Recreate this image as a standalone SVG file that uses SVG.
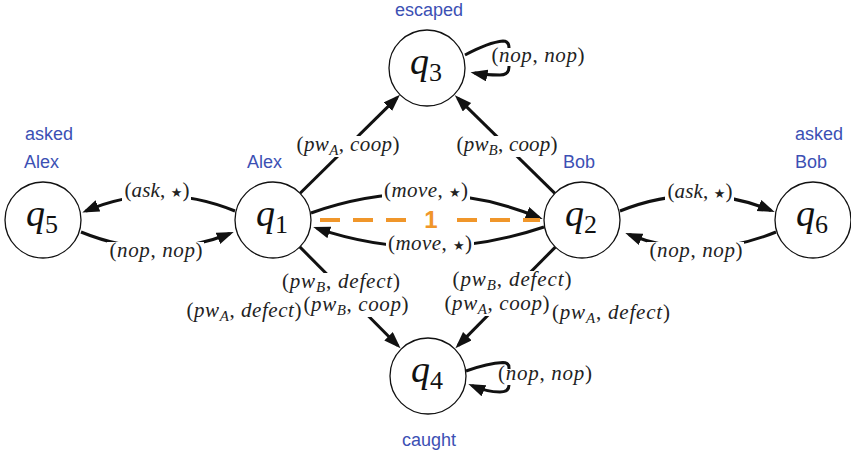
<svg xmlns="http://www.w3.org/2000/svg" width="851" height="455" viewBox="0 0 851 455">
<style>
.node circle{fill:#fff;stroke:#111;stroke-width:1.3}
.nl{font-family:"Liberation Serif",serif;font-size:38px;font-style:italic;fill:#111}
.nl tspan{font-style:normal;font-size:26px}
.edge{fill:none;stroke:#111;stroke-width:3}
.dash{fill:none;stroke:#f0962a;stroke-width:4;stroke-dasharray:20 13}
.one{font-family:"Liberation Sans",sans-serif;font-weight:bold;font-size:24px;fill:#f0962a}
.lbl{font-family:"Liberation Serif",serif;font-size:21px;fill:#222}
.it{font-style:italic}
.sub{font-style:italic;font-size:15px}
.star{font-family:"DejaVu Sans",sans-serif;font-size:13px}
.bg{fill:#fff}
.tag{font-family:"Liberation Sans",sans-serif;font-size:18px;fill:#3c50b4}
</style>
<defs>
<marker id="ah" markerUnits="userSpaceOnUse" markerWidth="18" markerHeight="13" refX="13" refY="6" orient="auto"><path d="M0,0 L17,6 L0,12 z" fill="#111"/></marker>
</defs>
<g id="connectors">
<path class="edge" marker-end="url(#ah)" d="M235,211 Q158,180 86,211"/>
<path class="edge" marker-end="url(#ah)" d="M81,232 Q157,263 230,233.5"/>
<path class="edge" marker-end="url(#ah)" d="M311,213 Q427,172 539,217.5"/>
<path class="edge" marker-end="url(#ah)" d="M544,227 Q428,266 317,228.3"/>
<path class="edge" marker-end="url(#ah)" d="M620,211 Q698,180 771,210.5"/>
<path class="edge" marker-end="url(#ah)" d="M776,232 Q700,263 629,234.5"/>
<path class="edge" marker-end="url(#ah)" d="M300.1,193.2 L397.1,97.6"/>
<path class="edge" marker-end="url(#ah)" d="M554.9,193.4 L457.7,98.1"/>
<path class="edge" marker-end="url(#ah)" d="M299.8,246.9 L397.7,345.5"/>
<path class="edge" marker-end="url(#ah)" d="M555.3,247.1 L458.2,345.4"/>
<path class="edge" marker-end="url(#ah)" d="M465,55 C480,47 492,42 503,41 Q509,41 509,48 L509,67 Q509,75 500,75 C490,75 482,74.5 474.5,73"/>
<path class="edge" marker-end="url(#ah)" d="M466,371 C480,366 492,363 503,362.5 Q509,362.5 509,368 L509,385 Q509,392 500,392 C490,392 480,389 472,385.5"/>
<path class="dash" d="M320,220 H408"/>
<path class="dash" d="M457,220 H540"/>
<text class="one" x="431" y="228" text-anchor="middle">1</text>
</g>
<g id="edge-labels">
<rect class="bg" x="122" y="182" width="69" height="20"/>
<text class="lbl" x="157" y="197" text-anchor="middle" textLength="65">(<tspan class="it">ask</tspan>, <tspan class="star">★</tspan>)</text>
<rect class="bg" x="107" y="242" width="97" height="20"/>
<text class="lbl" x="156" y="257" text-anchor="middle" textLength="93">(<tspan class="it">nop</tspan>, <tspan class="it">nop</tspan>)</text>
<rect class="bg" x="382" y="182" width="88" height="20"/>
<text class="lbl" x="426" y="197" text-anchor="middle" textLength="84">(<tspan class="it">move</tspan>, <tspan class="star">★</tspan>)</text>
<rect class="bg" x="386" y="236" width="88" height="19"/>
<text class="lbl" x="430" y="250" text-anchor="middle" textLength="84">(<tspan class="it">move</tspan>, <tspan class="star">★</tspan>)</text>
<rect class="bg" x="294" y="136" width="107" height="21"/>
<text class="lbl" x="348" y="151" text-anchor="middle" textLength="103">(<tspan class="it">pw</tspan><tspan class="sub" dy="4">A</tspan><tspan dy="-4">, </tspan><tspan class="it">coop</tspan>)</text>
<rect class="bg" x="454" y="136" width="105" height="21"/>
<text class="lbl" x="507" y="151" text-anchor="middle" textLength="101">(<tspan class="it">pw</tspan><tspan class="sub" dy="4">B</tspan><tspan dy="-4">, </tspan><tspan class="it">coop</tspan>)</text>
<rect class="bg" x="665" y="183" width="69" height="20"/>
<text class="lbl" x="700" y="198" text-anchor="middle" textLength="65">(<tspan class="it">ask</tspan>, <tspan class="star">★</tspan>)</text>
<rect class="bg" x="647" y="242" width="97" height="20"/>
<text class="lbl" x="696" y="257" text-anchor="middle" textLength="93">(<tspan class="it">nop</tspan>, <tspan class="it">nop</tspan>)</text>
<rect class="bg" x="280" y="273" width="122" height="23"/>
<text class="lbl" x="341" y="288" text-anchor="middle" textLength="118">(<tspan class="it">pw</tspan><tspan class="sub" dy="4">B</tspan><tspan dy="-4">, </tspan><tspan class="it">defect</tspan>)</text>
<rect class="bg" x="302" y="295" width="109" height="22"/>
<text class="lbl" x="356" y="311" text-anchor="middle" textLength="105">(<tspan class="it">pw</tspan><tspan class="sub" dy="4">B</tspan><tspan dy="-4">, </tspan><tspan class="it">coop</tspan>)</text>
<text class="lbl" x="244" y="317" text-anchor="middle" textLength="115">(<tspan class="it">pw</tspan><tspan class="sub" dy="4">A</tspan><tspan dy="-4">, </tspan><tspan class="it">defect</tspan>)</text>
<rect class="bg" x="451" y="271" width="123" height="23"/>
<text class="lbl" x="512" y="286" text-anchor="middle" textLength="119">(<tspan class="it">pw</tspan><tspan class="sub" dy="4">B</tspan><tspan dy="-4">, </tspan><tspan class="it">defect</tspan>)</text>
<rect class="bg" x="443" y="294" width="109" height="22"/>
<text class="lbl" x="497" y="310" text-anchor="middle" textLength="105">(<tspan class="it">pw</tspan><tspan class="sub" dy="4">A</tspan><tspan dy="-4">, </tspan><tspan class="it">coop</tspan>)</text>
<text class="lbl" x="611" y="319" text-anchor="middle" textLength="118">(<tspan class="it">pw</tspan><tspan class="sub" dy="4">A</tspan><tspan dy="-4">, </tspan><tspan class="it">defect</tspan>)</text>
<rect class="bg" x="489" y="48" width="99" height="18"/>
<text class="lbl" x="538" y="62" text-anchor="middle" textLength="93">(<tspan class="it">nop</tspan>, <tspan class="it">nop</tspan>)</text>
<rect class="bg" x="494" y="369" width="100" height="16"/>
<text class="lbl" x="545" y="380" text-anchor="middle" textLength="94">(<tspan class="it">nop</tspan>, <tspan class="it">nop</tspan>)</text>
</g>
<g id="q1" class="node"><circle cx="273" cy="220" r="38"/><text class="nl" x="272" y="226" text-anchor="middle">q<tspan dy="7">1</tspan></text></g>
<g id="q2" class="node"><circle cx="582" cy="220" r="38"/><text class="nl" x="581" y="226" text-anchor="middle">q<tspan dy="7">2</tspan></text></g>
<g id="q3" class="node"><circle cx="427" cy="68" r="38"/><text class="nl" x="426" y="74" text-anchor="middle">q<tspan dy="7">3</tspan></text></g>
<g id="q4" class="node"><circle cx="428" cy="376" r="38"/><text class="nl" x="427" y="382" text-anchor="middle">q<tspan dy="7">4</tspan></text></g>
<g id="q5" class="node"><circle cx="43" cy="220" r="38"/><text class="nl" x="42" y="226" text-anchor="middle">q<tspan dy="7">5</tspan></text></g>
<g id="q6" class="node"><circle cx="813" cy="220" r="38"/><text class="nl" x="812" y="226" text-anchor="middle">q<tspan dy="7">6</tspan></text></g>
<g id="tags">
<text class="tag" x="429" y="16" text-anchor="middle">escaped</text>
<text class="tag" x="25" y="140">asked</text>
<text class="tag" x="24" y="168">Alex</text>
<text class="tag" x="247" y="168">Alex</text>
<text class="tag" x="563" y="168">Bob</text>
<text class="tag" x="795" y="140">asked</text>
<text class="tag" x="795" y="168">Bob</text>
<text class="tag" x="429" y="446" text-anchor="middle">caught</text>
</g>
</svg>
